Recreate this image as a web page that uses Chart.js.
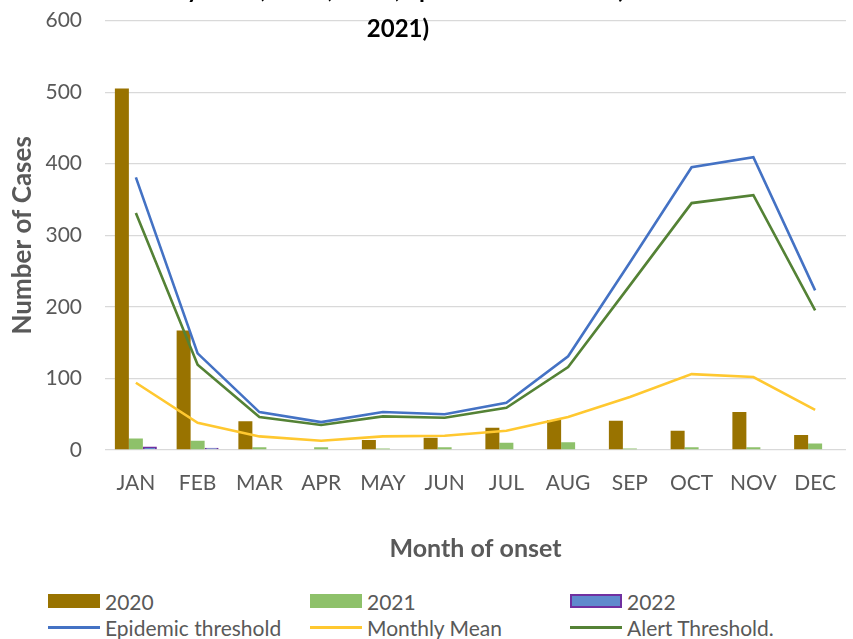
<!DOCTYPE html>
<html>
<head>
<meta charset="utf-8">
<script src="https://cdn.jsdelivr.net/npm/chart.js@4"></script>
<style>
  body { margin: 0; width: 853px; height: 639px; overflow: hidden; position: relative; background: #fff; font-family: Lato, sans-serif; }
  #chart-wrap { position: absolute; top: -15px; left: 0; }
  #title { position: absolute; top: -31px; left: 0; width: 796px; text-align: center; font-weight: bold; font-size: 24px; line-height: 39px; color: #000; white-space: nowrap; }
  .legend-item { position: absolute; height: 26px; display: flex; align-items: center; font-size: 21px; color: #595959; }
  .swatch { width: 52px; margin-right: 5px; box-sizing: border-box; }
</style>
</head>
<body>
<div id="chart-wrap"><canvas id="cases-chart" width="853" height="595"></canvas></div>
<div id="title">Monthly 2020, 2021, 2022, epidemic threshold (2016-<br>2021)</div>
<div id="legend"></div>
<script>
const months = ["JAN", "FEB", "MAR", "APR", "MAY", "JUN", "JUL", "AUG", "SEP", "OCT", "NOV", "DEC"];

const cases2020 = [505, 167, 40, 1, 14, 17, 31, 42, 41, 27, 53, 21];
const cases2021 = [16, 13, 4, 4, 2, 4, 10, 11, 2, 4, 4, 9];
const cases2022 = [5, 3, null, null, null, null, null, null, null, null, null, null];

const epidemicThreshold = [381, 135, 53, 39, 53, 50, 66, 131, 262, 395, 409, 223];
const monthlyMean = [94, 38, 19, 13, 19, 20, 27, 46, 74, 106, 102, 56];
const alertThreshold = [331, 119, 46, 35, 47, 45, 59, 116, 230, 345, 356, 195];

const yTicks = [0, 100, 200, 300, 400, 500, 600];

Chart.defaults.font.family = "Lato, sans-serif";
Chart.defaults.color = "#595959";

const barSets = [
    { label: "2020", data: cases2020, color: "#997300", border: "#997300", borderWidth: 0 },
    { label: "2021", data: cases2021, color: "#8EC16A", border: "#8EC16A", borderWidth: 0 },
    { label: "2022", data: cases2022, color: "#5F8ACD", border: "#7030A0", borderWidth: 2 },
];
const lineSets = [
    { label: "Epidemic threshold", data: epidemicThreshold, color: "#4472C4" },
    { label: "Monthly Mean", data: monthlyMean, color: "#FFC830" },
    { label: "Alert Threshold.", data: alertThreshold, color: "#548235" },
];

const datasets = [];
lineSets.forEach((s) => {
    datasets.push({
        type: "line",
        label: s.label,
        data: s.data,
        borderColor: s.color,
        backgroundColor: s.color,
        borderWidth: 2.6,
        pointRadius: 0,
        tension: 0,
        order: 0,
    });
});
barSets.forEach((s) => {
    datasets.push({
        type: "bar",
        label: s.label,
        data: s.data,
        backgroundColor: s.color,
        borderColor: s.border,
        borderWidth: s.borderWidth,
        categoryPercentage: 0.68,
        barPercentage: 1,
        order: 1,
    });
});

const casesChart = new Chart(document.getElementById("cases-chart"), {
    data: { labels: months, datasets: datasets },
    options: {
        responsive: false,
        animation: false,
        devicePixelRatio: 1,
        layout: { padding: { top: 5, left: 0, right: 7, bottom: 0 } },
        plugins: {
            legend: { display: false },
            title: { display: false },
            tooltip: { enabled: false },
        },
        scales: {
            x: {
                grid: { display: false },
                border: { display: false },
                ticks: { font: { size: 21 }, color: "#595959", padding: 13 },
                title: {
                    display: true,
                    text: "Month of onset",
                    font: { size: 25, weight: "bold" },
                    color: "#595959",
                    padding: { top: 0, bottom: 16 },
                },
                afterFit: (scale) => { scale.height = 130; },
            },
            y: {
                min: 0,
                max: 600,
                afterBuildTicks: (scale) => { scale.ticks = yTicks.map((v) => ({ value: v })); },
                grid: { color: "#D9D9D9", lineWidth: 1.3, drawTicks: false },
                border: { display: false },
                ticks: { font: { size: 21 }, color: "#595959", padding: 23 },
                title: {
                    display: true,
                    text: "Number of Cases",
                    font: { size: 26, weight: "bold" },
                    color: "#595959",
                    padding: { top: 7, bottom: 0 },
                },
                afterFit: (scale) => { scale.width = 105; },
            },
        },
    },
});

// legend laid out in three columns like the original
const legendEl = document.getElementById("legend");
const columns = [48, 310, 570];
const rows = [588, 614];

barSets.concat(lineSets).forEach((s, i) => {
    const item = document.createElement("div");
    item.className = "legend-item";
    item.style.left = columns[i % 3] + "px";
    item.style.top = rows[Math.floor(i / 3)] + "px";
    const sw = document.createElement("div");
    sw.className = "swatch";
    if (i < 3) {
        sw.style.height = "14px";
        sw.style.background = s.color;
        if (s.borderWidth) sw.style.border = s.borderWidth + "px solid " + s.border;
    } else {
        sw.style.height = "3px";
        sw.style.background = s.color;
    }
    const txt = document.createElement("span");
    txt.textContent = s.label;
    item.appendChild(sw);
    item.appendChild(txt);
    legendEl.appendChild(item);
});
</script>
</body>
</html>
